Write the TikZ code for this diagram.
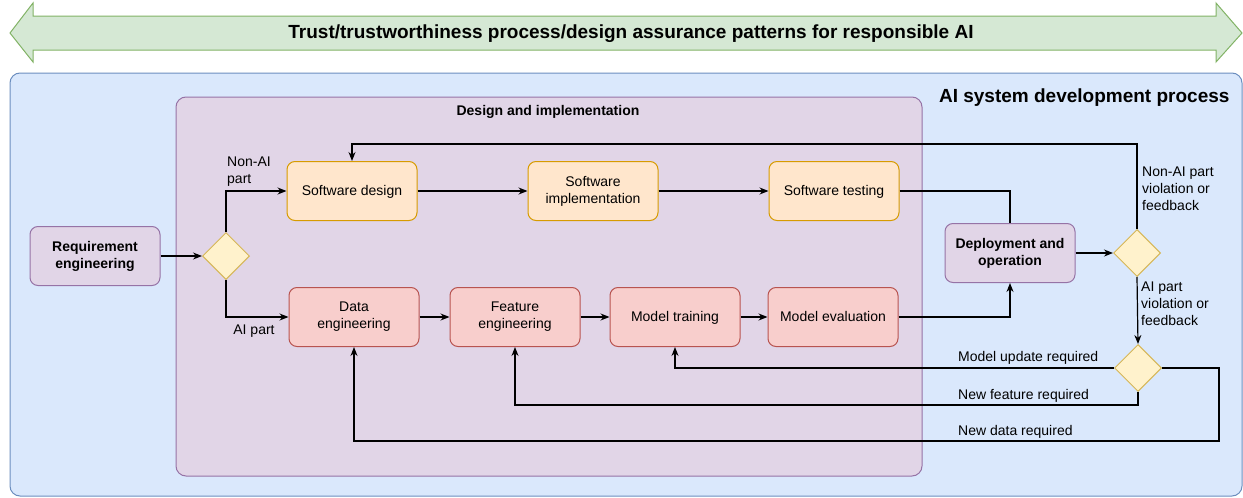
\documentclass[tikz,border=0pt]{standalone}
\usepackage{fontspec}
\setmainfont{Liberation Sans}
\usetikzlibrary{arrows.meta,shapes.geometric}
\definecolor{bluefill}{HTML}{DAE8FC}
\definecolor{bluedraw}{HTML}{6C8EBF}
\definecolor{greenfill}{HTML}{D5E8D4}
\definecolor{greendraw}{HTML}{82B366}
\definecolor{purplefill}{HTML}{E1D5E7}
\definecolor{purpledraw}{HTML}{9673A6}
\definecolor{orangefill}{HTML}{FFE6CC}
\definecolor{orangedraw}{HTML}{D79B00}
\definecolor{redfill}{HTML}{F8CECC}
\definecolor{reddraw}{HTML}{B85450}
\definecolor{yellowfill}{HTML}{FFF2CC}
\definecolor{yellowdraw}{HTML}{D6B656}
\def\linestrut{\rule[-2.95pt]{0pt}{15.6pt}}
\tikzset{
  box/.style={draw, rounded corners=8pt, line width=1pt, minimum width=130pt, minimum height=59pt, align=center, font=\fontsize{14}{17}\selectfont, inner sep=2pt, execute at begin node=\linestrut, execute at end node=\linestrut},
  swbox/.style={box, fill=orangefill, draw=orangedraw},
  aibox/.style={box, fill=redfill, draw=reddraw},
  phasebox/.style={box, fill=purplefill, draw=purpledraw, font=\fontsize{14}{17}\selectfont\bfseries},
  choice/.style={draw=yellowdraw, fill=yellowfill, diamond, line width=1pt, minimum width=47pt, minimum height=47pt, inner sep=0pt},
  lbl/.style={font=\fontsize{14}{17}\selectfont, align=left, inner sep=0pt, execute at begin node=\linestrut, execute at end node=\linestrut},
  flow/.style={line width=1.2pt, -{Stealth[length=9pt,width=7pt]}},
  link/.style={line width=1.2pt}
}

\begin{document}
\begin{tikzpicture}[x=1pt, y=-1pt]
		%%%%% START %%%%%
		\useasboundingbox (0,0) rectangle (1243,498);
		
		\draw[fill=greenfill, draw=greendraw, line width=1pt] (10,33) -- (33,3) -- (33,16) -- (1216,16) -- (1216,3) -- (1242,33) -- (1216,62) -- (1216,50) -- (33,50) -- (33,62) -- cycle;
		\node[font=\fontsize{19}{22}\selectfont\bfseries] (trust) at (631,34) {Trust/trustworthiness process/design assurance patterns for responsible AI};
		
		\draw[fill=bluefill, draw=bluedraw, line width=1pt, rounded corners=10pt] (10,73) rectangle (1242,496);
		\node[font=\fontsize{19}{22}\selectfont\bfseries, anchor=east] (sysdev) at (1233,98) {AI system development process};
		
		\draw[fill=purplefill, draw=purpledraw, line width=1pt, rounded corners=10pt] (176,97) rectangle (922,476);
		\node[font=\fontsize{14}{17}\selectfont\bfseries] (designimpl) at (548,112) {Design and implementation};
		
		\node[phasebox] (req) at (95,256) {Requirement\\engineering};
		\node[choice] (split) at (226,256) {};
		
		\node[swbox] (swdesign) at (352,191) {Software design};
		\node[swbox] (swimpl) at (593,191) {Software\\implementation};
		\node[swbox] (swtest) at (834,191) {Software testing};
		
		\node[aibox] (dataeng) at (354,317) {Data\\engineering};
		\node[aibox] (feateng) at (515,317) {Feature\\engineering};
		\node[aibox] (modtrain) at (675,317) {Model training};
		\node[aibox] (modeval) at (833,317) {Model evaluation};
		
		\node[phasebox] (deploy) at (1010,253) {Deployment and\\operation};
		\node[choice] (partcheck) at (1137,253) {};
		\node[choice] (aicheck) at (1138,368) {};
		
		\coordinate (fbtop) at (700,144);
		\coordinate (fbfeat) at (800,405);
		\coordinate (fbdata) at (1219,441);
		
		% main flow
		\draw[flow] (req) -- (split);
		\draw[flow] (split.north) |- (swdesign.west);
		\draw[flow] (split.south) |- (dataeng.west);
		\draw[flow] (swdesign) -- (swimpl);
		\draw[flow] (swimpl) -- (swtest);
		\draw[link] (swtest.east) -| (deploy.north);
		\draw[flow] (dataeng) -- (feateng);
		\draw[flow] (feateng) -- (modtrain);
		\draw[flow] (modtrain) -- (modeval);
		\draw[flow] (modeval.east) -| (deploy.south);
		\draw[flow] (deploy) -- (partcheck);
		
		% feedback
		\draw[flow] (partcheck.north) |- (fbtop) -| (swdesign.north);
		\draw[flow] (partcheck.south) -- (aicheck.north);
		\draw[flow] (aicheck.west) -| (modtrain.south);
		\draw[flow] (aicheck.south) |- (fbfeat) -| (feateng.south);
		\draw[flow] (aicheck.east) -| (fbdata) -| (dataeng.south);
		
		\node[lbl, anchor=south west] (nonailbl) at (227,187) {Non-AI\\part};
		\node[lbl] (ailbl) at (254,330) {AI part};
		\node[lbl, anchor=west] (nonaifb) at (1142,190) {Non-AI part\\violation or\\feedback};
		\node[lbl, anchor=west] (aifb) at (1141,305) {AI part\\violation or\\feedback};
		\node[lbl, anchor=west] (modupd) at (958,357) {Model update required};
		\node[lbl, anchor=west] (newfeat) at (958,395) {New feature required};
		\node[lbl, anchor=west] (newdata) at (958,431) {New data required};
		
		%%%%% END %%%%%
	\end{tikzpicture}
\end{document}
